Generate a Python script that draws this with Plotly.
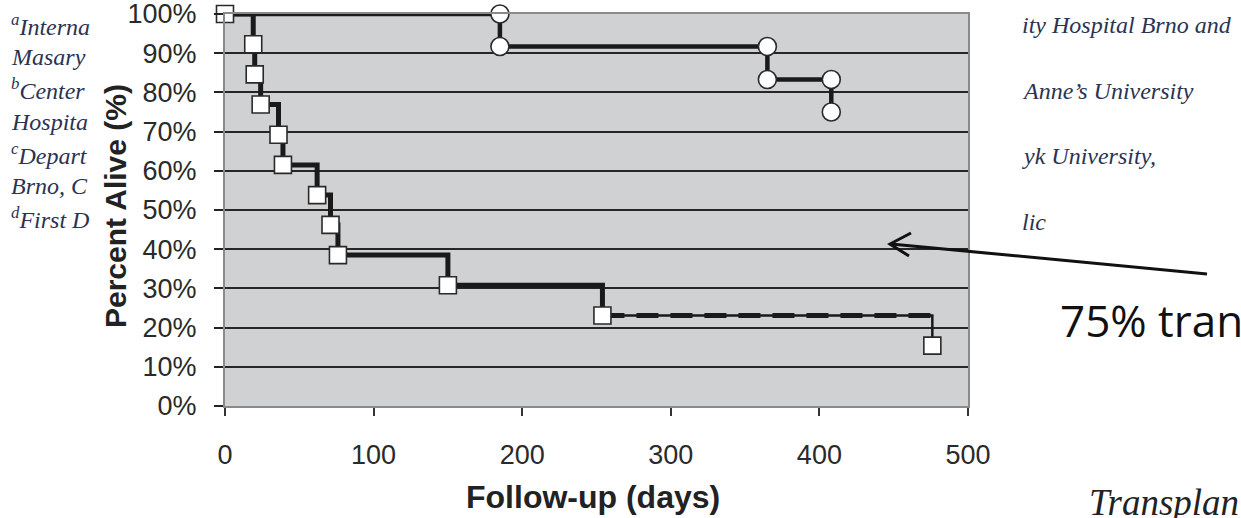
import plotly.graph_objects as go

# ---- data ----
sq_days = [0, 19, 20, 24, 36, 39, 62, 71, 76, 150, 254, 476]
sq_alive = [100, 92.3, 84.6, 76.9, 69.2, 61.5, 53.8, 46.2, 38.5, 30.8, 23.1, 15.4]

ci_days = [0, 185, 365, 408]
ci_alive = [100, 91.7, 83.3, 75.0]

y_ticks = list(range(0, 101, 10))
y_tick_labels = [f"{v}%" for v in y_ticks]
x_ticks = [0, 100, 200, 300, 400, 500]

left_text = ["<sup>a</sup>Interna", "Masary", "<sup>b</sup>Center", "Hospita",
             "<sup>c</sup>Depart", "Brno, C", "<sup>d</sup>First D"]
right_text = ["ity Hospital Brno and", "Anne\u2019s University", "yk University,", "lic"]

# ---- layout geometry (pixels) ----
W, H = 1241, 518
L, R, T, B = 225, 968, 14, 406


def px(x):
    return (x - L) / (R - L)


def py(y):
    return (B - y) / (B - T)


fig = go.Figure()

# circle series step line
fig.add_trace(go.Scatter(x=ci_days, y=ci_alive, mode="lines", line_shape="hv", cliponaxis=False,
                         line=dict(color="#1a1a1a", width=4.5), hoverinfo="skip"))

# square series: solid part up to the next-to-last event
n = len(sq_days)
fig.add_trace(go.Scatter(x=sq_days[:n - 1], y=sq_alive[:n - 1], mode="lines", line_shape="hv",
                         cliponaxis=False,
                         line=dict(color="#1a1a1a", width=5), hoverinfo="skip"))
# last step: thin solid + thick dashed overlay
fig.add_trace(go.Scatter(x=sq_days[n - 2:], y=sq_alive[n - 2:], mode="lines", line_shape="hv",
                         line=dict(color="#1a1a1a", width=2.5), hoverinfo="skip"))
fig.add_trace(go.Scatter(x=sq_days[n - 2:], y=[sq_alive[n - 2]] * 2, mode="lines",
                         line=dict(color="#1a1a1a", width=5, dash="22px,12px"), hoverinfo="skip"))

# circle markers at both ends of each drop
cx, cy = [], []
for i in range(1, len(ci_days)):
    cx += [ci_days[i], ci_days[i]]
    cy += [ci_alive[i - 1], ci_alive[i]]
fig.add_trace(go.Scatter(x=cx, y=cy, mode="markers", cliponaxis=False,
                         marker=dict(symbol="circle", size=18, color="white",
                                     line=dict(color="#2a2a2a", width=1.6)),
                         hoverinfo="skip"))

# square markers
fig.add_trace(go.Scatter(x=sq_days, y=sq_alive, mode="markers", cliponaxis=False,
                         marker=dict(symbol="square", size=17, color="white",
                                     line=dict(color="#2a2a2a", width=1.6)),
                         hoverinfo="skip"))

annotations = []
# axis titles
annotations.append(dict(text="<b>Percent Alive (%)</b>", xref="paper", yref="paper",
                        x=px(115), y=py(206), textangle=-90, showarrow=False,
                        xanchor="center", yanchor="middle",
                        font=dict(family="Liberation Sans, Arial", size=30, color="#222")))
annotations.append(dict(text="<b>Follow-up (days)</b>", xref="paper", yref="paper",
                        x=px(593), y=py(497), showarrow=False,
                        xanchor="center", yanchor="middle",
                        font=dict(family="Liberation Sans, Arial", size=32, color="#222")))

# background page text
serif = dict(family="Liberation Serif, DejaVu Serif", size=24, color="#2a3352")
for i, t in enumerate(left_text):
    annotations.append(dict(text=f"<i>{t}</i>", xref="paper", yref="paper",
                            x=px(9), y=py(25 + 32.2 * i), showarrow=False,
                            xanchor="left", yanchor="middle", font=serif))
for i, t in enumerate(right_text):
    annotations.append(dict(text=f"<i>{t}</i>", xref="paper", yref="paper",
                            x=px(1020), y=py(25 + 65.5 * i), showarrow=False,
                            xanchor="left", yanchor="middle", font=serif))

annotations.append(dict(text="75% tran", xref="paper", yref="paper",
                        x=px(1058), y=py(320), showarrow=False,
                        xanchor="left", yanchor="middle",
                        font=dict(family="Open Sans, Noto Sans", size=44, color="#111")))
annotations.append(dict(text="<i>Transplan</i>", xref="paper", yref="paper",
                        x=px(1087), y=py(503), showarrow=False,
                        xanchor="left", yanchor="middle",
                        font=dict(family="Liberation Serif, DejaVu Serif", size=37, color="#222")))

shapes = [
    dict(type="line", xref="paper", yref="paper", x0=px(1207), y0=py(274), x1=px(891), y1=py(244),
         line=dict(color="#111", width=3)),
    dict(type="path", xref="paper", yref="paper",
         path=f"M {px(911)},{py(233)} L {px(890)},{py(244)} L {px(909)},{py(256)}",
         line=dict(color="#111", width=3)),
]

fig.update_layout(
    width=W, height=H, autosize=False,
    margin=dict(l=L, r=W - R, t=T, b=H - B, pad=0, autoexpand=False),
    paper_bgcolor="white", plot_bgcolor="#d0d1d3",
    showlegend=False,
    annotations=annotations, shapes=shapes,
    xaxis=dict(range=[0, 500], tickvals=x_ticks, showgrid=False, zeroline=False,
               automargin=False,
               showline=True, linecolor="#8a8a8a", linewidth=2, mirror=True,
               ticks="outside", ticklen=8, tickwidth=1.5, tickcolor="#333",
               ticklabelstandoff=16, ticklabeloverflow="allow",
               tickfont=dict(family="Liberation Sans, Arial", size=27, color="#2a2a2a")),
    yaxis=dict(range=[0, 100], tickvals=y_ticks, ticktext=y_tick_labels,
               showgrid=True, gridcolor="#262626", gridwidth=1.5, zeroline=False,
               automargin=False,
               showline=True, linecolor="#8a8a8a", linewidth=2, mirror=True,
               ticks="outside", ticklen=9, tickwidth=1.5, tickcolor="#222",
               ticklabelstandoff=12, ticklabeloverflow="allow",
               tickfont=dict(family="Liberation Sans, Arial", size=27, color="#2a2a2a")),
)

fig.write_html("out.html", config={"displayModeBar": False},
               post_script="document.body.style.margin='0';document.body.style.overflow='hidden';")
